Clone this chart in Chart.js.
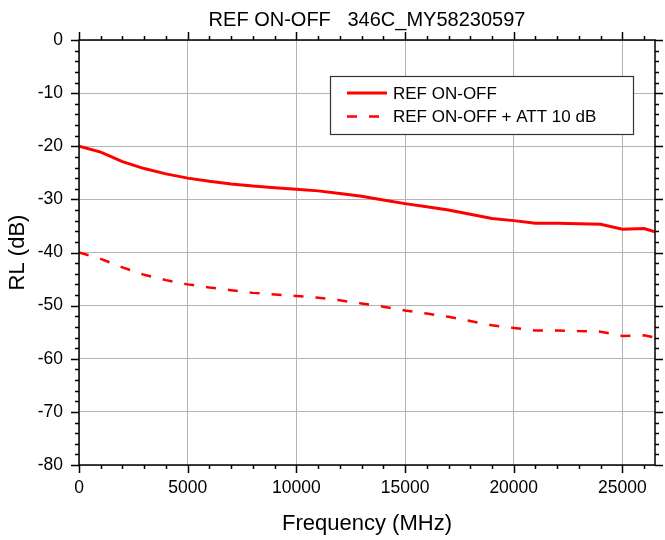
<!DOCTYPE html>
<html>
<head>
<meta charset="utf-8">
<script src="https://cdn.jsdelivr.net/npm/chart.js@4.4.1/dist/chart.umd.min.js"></script>
<style>
  html, body { margin: 0; padding: 0; background: #fff; }
  #wrap { width: 665px; height: 540px; }
</style>
</head>
<body>
<div id="wrap"><canvas id="rl"></canvas></div>
<script>
'use strict';

// chart data
var chartTitle = 'REF ON-OFF   346C_MY58230597';
var seriesNames = ['REF ON-OFF', 'REF ON-OFF + ATT 10 dB'];
var freqMHz = [0, 1000, 2000, 3000, 4000, 5000, 6000, 7000, 8000, 9000, 10000,
  11000, 12000, 13000, 14000, 15000, 16000, 17000, 18000, 19000, 20000,
  21000, 22000, 23000, 24000, 25000, 26000, 26500];
var refOnOff = [-20.0, -21.1, -22.9, -24.2, -25.2, -26.0, -26.6, -27.1, -27.5, -27.8, -28.1,
  -28.4, -28.9, -29.4, -30.1, -30.8, -31.4, -32.0, -32.8, -33.6, -34.0,
  -34.5, -34.5, -34.6, -34.7, -35.6, -35.5, -36.1];
var refOnOffAtt = [-40.0, -41.2, -42.8, -44.2, -45.2, -46.0, -46.6, -47.1, -47.6, -47.9, -48.2,
  -48.5, -49.0, -49.6, -50.2, -50.9, -51.5, -52.1, -52.9, -53.7, -54.2,
  -54.7, -54.7, -54.8, -54.9, -55.7, -55.6, -56.0];
var xTicks = [0, 5000, 10000, 15000, 20000, 25000];
var xMinorStep = 1000;
var yMinorStep = 2;

var FONT = '"Liberation Sans", Arial, sans-serif';

function toPoints(values) {
  return values.map(function (v, i) {
    return { x: freqMHz[i], y: v };
  });
}

// plain numbers, no thousands separator
function plainLabel(value) {
  return String(value);
}

// frame with outward ticks on all four sides, like the original plot
var framePlugin = {
  id: 'frame',
  afterDatasetsDraw: function (chart) {
    var ctx = chart.ctx;
    var a = chart.chartArea;
    var xs = chart.scales.x;
    var ys = chart.scales.y;
    ctx.save();
    ctx.strokeStyle = '#000';
    ctx.lineWidth = 1.5;
    ctx.strokeRect(a.left, a.top, a.right - a.left, a.bottom - a.top);

    ctx.beginPath();
    var v, px, len;
    for (v = xs.min; v <= xs.max; v += xMinorStep) {
      px = Math.round(xs.getPixelForValue(v)) + 0.5;
      len = (v % 5000 === 0) ? 8 : 4;
      ctx.moveTo(px, a.bottom);
      ctx.lineTo(px, a.bottom + len);
      ctx.moveTo(px, a.top);
      ctx.lineTo(px, a.top - len);
    }
    for (v = ys.min; v <= ys.max; v += yMinorStep) {
      px = Math.round(ys.getPixelForValue(v)) + 0.5;
      len = (v % 10 === 0) ? 8 : 4;
      ctx.moveTo(a.left, px);
      ctx.lineTo(a.left - len, px);
      ctx.moveTo(a.right, px);
      ctx.lineTo(a.right + len, px);
    }
    ctx.stroke();
    ctx.restore();
  }
};

// title centred over the plot area and a boxed legend inside it
var labelsPlugin = {
  id: 'labels',
  afterDraw: function (chart) {
    var ctx = chart.ctx;
    var a = chart.chartArea;
    ctx.save();
    ctx.fillStyle = '#000';
    ctx.font = '20px ' + FONT;
    ctx.textAlign = 'center';
    ctx.textBaseline = 'middle';
    ctx.fillText(chartTitle, (a.left + a.right) / 2, 20);

    // legend box
    var bx = a.left + 251, by = a.top + 36, bw = 303, bh = 58;
    ctx.fillStyle = '#fff';
    ctx.fillRect(bx, by, bw, bh);
    ctx.strokeStyle = '#333';
    ctx.lineWidth = 1.2;
    ctx.strokeRect(bx + 0.5, by + 0.5, bw, bh);

    var sets = chart.data.datasets;
    sets.forEach(function (ds, i) {
      var ly = by + 17 + i * 23.5;
      ctx.strokeStyle = ds.borderColor;
      ctx.lineWidth = ds.borderWidth;
      ctx.setLineDash(ds.borderDash || []);
      ctx.beginPath();
      ctx.moveTo(bx + 17, ly);
      ctx.lineTo(bx + (ds.borderDash ? 49 : 57), ly);
      ctx.stroke();
      ctx.setLineDash([]);
      ctx.fillStyle = '#000';
      ctx.font = '17px ' + FONT;
      ctx.textAlign = 'left';
      ctx.fillText(ds.label, bx + 63, ly + 1);
    });
    ctx.restore();
  }
};

var c = document.getElementById('rl');
var context = c.getContext('2d');

var results = new Chart(context, {
  type: 'scatter',
  data: {
    datasets: [{
      label: seriesNames[0],
      data: toPoints(refOnOff),
      showLine: true,
      borderColor: '#ff0000',
      borderWidth: 3,
      pointRadius: 0,
      tension: 0
    }, {
      label: seriesNames[1],
      data: toPoints(refOnOffAtt),
      showLine: true,
      borderColor: '#ff0000',
      borderWidth: 2.5,
      borderDash: [10, 12],
      pointRadius: 0,
      tension: 0
    }]
  },
  options: {
    responsive: true,
    maintainAspectRatio: false,
    animation: false,
    events: [],
    layout: { padding: { left: 0, right: 10, top: 40, bottom: 0 } },
    plugins: {
      legend: { display: false },
      title: { display: false },
      tooltip: { enabled: false }
    },
    scales: {
      x: {
        type: 'linear',
        min: 0,
        max: 26500,
        afterBuildTicks: function (scale) {
          scale.ticks = xTicks.map(function (t) { return { value: t }; });
        },
        afterFit: function (scale) { scale.height = 75; },
        grid: { color: '#b4b4b4', lineWidth: 1, drawTicks: false },
        border: { display: false },
        ticks: {
          padding: 13,
          maxRotation: 0,
          color: '#000',
          font: { family: FONT, size: 17.5 },
          callback: plainLabel
        },
        title: {
          display: true,
          text: 'Frequency (MHz)',
          color: '#000',
          font: { family: FONT, size: 22 },
          padding: { top: 3, bottom: 3 }
        }
      },
      y: {
        type: 'linear',
        min: -80,
        max: 0,
        afterFit: function (scale) { scale.width = 79; },
        grid: { color: '#b4b4b4', lineWidth: 1, drawTicks: false },
        border: { display: false },
        ticks: {
          stepSize: 10,
          padding: 16,
          color: '#000',
          font: { family: FONT, size: 17.5 },
          callback: plainLabel
        },
        title: {
          display: true,
          text: 'RL (dB)',
          color: '#000',
          font: { family: FONT, size: 22 },
          padding: { top: 5, bottom: 5 }
        }
      }
    }
  },
  plugins: [framePlugin, labelsPlugin]
});
</script>
</body>
</html>
